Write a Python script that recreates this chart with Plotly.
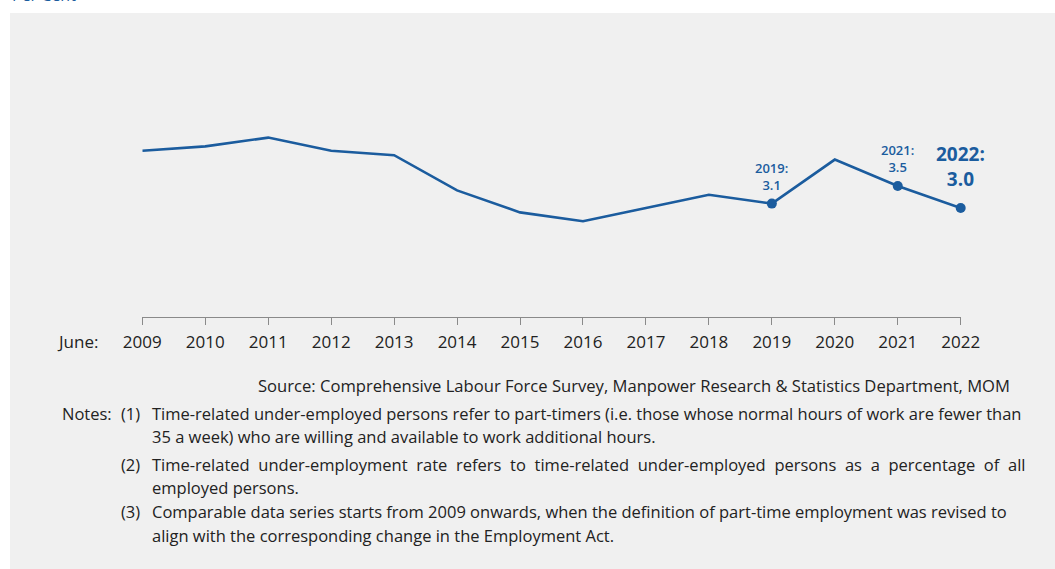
import plotly.graph_objects as go

years = [2009, 2010, 2011, 2012, 2013, 2014, 2015, 2016, 2017, 2018, 2019, 2020, 2021, 2022]
rate = [4.3, 4.4, 4.6, 4.3, 4.2, 3.4, 2.9, 2.7, 3.0, 3.3, 3.1, 4.1, 3.5, 3.0]
marked_years = [2019, 2021, 2022]
tick_labels = [str(y) for y in years]

W, H = 1055, 569
BLUE = "#1b5c9e"
FONT = "Open Sans"

def px_x(p):
    return p / W

def px_y(p):
    return 1 - p / H

def justify(s, extra):
    return s.replace(" ", " " + extra)

fig = go.Figure()
fig.add_trace(go.Scatter(x=years, y=rate, mode="lines",
                         line=dict(color=BLUE, width=2.6), hoverinfo="skip",
                         cliponaxis=False))
mvals = [rate[years.index(y)] for y in marked_years]
fig.add_trace(go.Scatter(x=marked_years, y=mvals, mode="markers",
                         marker=dict(color=BLUE, size=10), hoverinfo="skip",
                         cliponaxis=False))

annotations = []
# data labels
for yr, v in zip(marked_years, mvals):
    big = yr == 2022
    annotations.append(dict(
        x=yr, y=v, xref="x", yref="y",
        text=f"{yr}:<br>{v:.1f}", showarrow=False,
        yanchor="bottom", xanchor="center",
        yshift=8 if not big else 14,
        font=dict(family=FONT, size=19 if big else 13, color=BLUE,
                  weight="bold" if big else 600),
        align="center"))

annotations.append(dict(x=px_x(100), y=px_y(341), xref="paper", yref="paper",
                        text="June:", showarrow=False, xanchor="right", yanchor="middle",
                        font=dict(family=FONT, size=17, color="#222")))
annotations.append(dict(x=px_x(10), y=px_y(8), xref="paper", yref="paper",
                        text="Per Cent", showarrow=False, xanchor="left", yanchor="bottom",
                        font=dict(family=FONT, size=16, color=BLUE)))
annotations.append(dict(x=px_x(1012), y=px_y(385), xref="paper", yref="paper",
                        text="Source: Comprehensive Labour Force Survey, Manpower Research &amp; Statistics Department, MOM",
                        showarrow=False, xanchor="right", yanchor="middle",
                        font=dict(family=FONT, size=16.6, color="#222")))

note_font = dict(family=FONT, size=16.5, color="#222")
notes_lines = [
    (60, 413, "Notes:"),
    (119, 413, "(1)"),
    (150, 413, "Time-related under-employed persons refer to part-timers (i.e. those whose normal hours of work are fewer than"),
    (150, 436, "35 a week) who are willing and available to work additional hours."),
    (119, 464, "(2)"),
    (150, 464, justify("Time-related under-employment rate refers to time-related under-employed persons as a percentage of all", "\u2009\u200a")),
    (150, 487, "employed persons."),
    (119, 512, "(3)"),
    (150, 512, "Comparable data series starts from 2009 onwards, when the definition of part-time employment was revised to"),
    (150, 535, "align with the corresponding change in the Employment Act."),
]
for x, y, t in notes_lines:
    annotations.append(dict(x=px_x(x), y=px_y(y), xref="paper", yref="paper",
                            text=t, showarrow=False, xanchor="left", yanchor="middle",
                            font=note_font))

shapes = [dict(type="rect", xref="paper", yref="paper",
               x0=px_x(10), x1=1.0, y0=0, y1=px_y(13),
               fillcolor="#f0f0f0", line=dict(width=0), layer="below")]

# y mapping: 3.0 at pixel 208, 44 px per unit; axis bottom at pixel 317, top at 40
y_bottom_px, y_top_px = 317, 40
ymin = 3.0 - (y_bottom_px - 208) / 44
ymax = 3.0 + (208 - y_top_px) / 44

fig.update_layout(
    width=W, height=H,
    margin=dict(l=0, r=0, t=0, b=0, pad=0, autoexpand=False),
    paper_bgcolor="white", plot_bgcolor="rgba(0,0,0,0)",
    showlegend=False,
    xaxis=dict(domain=[px_x(142.3), px_x(960.7)], range=[2009, 2022],
               tickmode="array", tickvals=years, ticktext=tick_labels,
               showline=True, linecolor="#8a8a8a", linewidth=1.2,
               ticks="outside", ticklen=7, tickcolor="#8a8a8a", tickwidth=1.2,
               showgrid=False, zeroline=False, automargin=False,
               ticklabelstandoff=2,
               tickfont=dict(family=FONT, size=17, color="#222")),
    yaxis=dict(domain=[px_y(y_bottom_px), px_y(y_top_px)], range=[ymin, ymax],
               visible=False, showgrid=False, zeroline=False, automargin=False),
    annotations=annotations, shapes=shapes,
)

fig.write_html("out.html")
